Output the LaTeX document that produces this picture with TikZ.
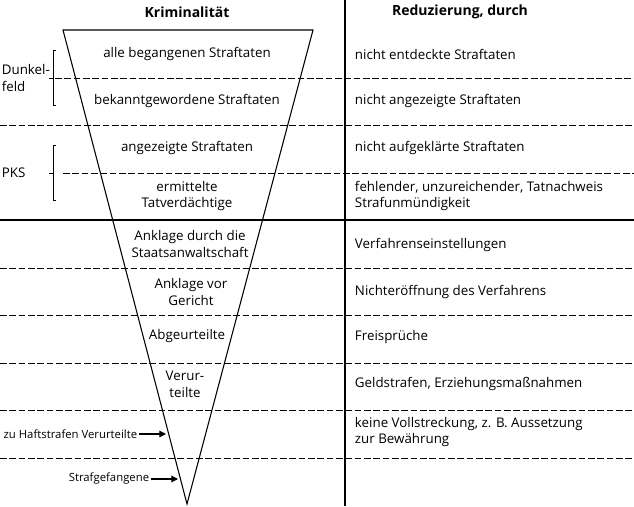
\documentclass[tikz,border=0pt]{standalone}
\usepackage{fontspec}
\setmainfont{Open Sans}
\usetikzlibrary{positioning,arrows.meta}
\tikzset{
    sep/.style={dashed, dash pattern=on 5pt off 2pt, thin},
    lefttext/.style={align=center, font=\fontsize{10}{12.5}\selectfont},
    righttext/.style={anchor=west, align=left, font=\fontsize{10}{12.5}\selectfont},
    sidetext/.style={anchor=east, font=\fontsize{8.5}{10}\selectfont, inner sep=1pt},
}
\begin{document}
\begin{tikzpicture}[x=0.75pt, y=-0.75pt, thick]
    \useasboundingbox (0,0) rectangle (634,506);
    \coordinate (TopLeft) at (63,30);
    \coordinate (TopRight) at (313,30);
    \coordinate (Apex) at (187,504);
    \draw[line join=miter] (TopLeft) -- (TopRight) -- (Apex) -- cycle;
    \draw[very thick] (345,0) -- (345,506);

    % separators
    \draw[sep] (55,78) -- (634,78);
    \draw[sep] (0,125) -- (634,125);
    \draw[sep] (63,173) -- (634,173);
    \draw[thick] (0,220) -- (634,220);
    \foreach \y in {268,315,363,410,458}
        \draw[sep] (0,\y) -- (634,\y);

    % brackets
    \draw[semithick] (56,50) -- (53,50) -- (53,105) -- (56,105) (53,78) -- (49,78);
    \draw[semithick] (56,145) -- (53,145) -- (53,200) -- (56,200) (53,173) -- (49,173);
    \node[lefttext, anchor=west, align=left, inner sep=1pt] (Dunkelfeld) at (0,78) {Dunkel-\\feld};
    \node[lefttext, anchor=west, inner sep=1pt] (PKS) at (0,173) {PKS};

    \node[font=\bfseries\fontsize{10.5}{12}\selectfont] (Krim) at (187,12) {Kriminalität};
    \node[font=\bfseries\fontsize{10.5}{12}\selectfont] (Red) at (460,12) {Reduzierung, durch};

    \node[lefttext] (L1) at (187,54) {alle begangenen Straftaten};
    \node[lefttext] (L2) at (187,101) {bekanntgewordene Straftaten};
    \node[lefttext] (L3) at (187,148) {angezeigte Straftaten};
    \node[lefttext] (L4) at (187,196) {ermittelte\\Tatverdächtige};
    \node[lefttext] (L5) at (190,244) {Anklage durch die\\Staatsanwaltschaft};
    \node[lefttext] (L6) at (191,292) {Anklage vor\\Gericht};
    \node[lefttext] (L7) at (187,336) {Abgeurteilte};
    \node[lefttext] (L8) at (185,384) {Verur-\\teilte};

    \node[righttext] (R1) at (350,54) {nicht entdeckte Straftaten};
    \node[righttext] (R2) at (350,101) {nicht angezeigte Straftaten};
    \node[righttext] (R3) at (350,148) {nicht aufgeklärte Straftaten};
    \node[righttext] (R4) at (350,196) {fehlender, unzureichender, Tatnachweis\\Strafunmündigkeit};
    \node[righttext] (R5) at (350,245) {Verfahrenseinstellungen};
    \node[righttext] (R6) at (350,292) {Nichteröffnung des Verfahrens};
    \node[righttext] (R7) at (350,337) {Freisprüche};
    \node[righttext] (R8) at (350,384) {Geldstrafen, Erziehungsmaßnahmen};
    \node[righttext] (R9) at (350,432) {keine Vollstreckung, z. B. Aussetzung\\zur Bewährung};

    \node[sidetext] (Haft) at (139,434) {zu Haftstrafen Verurteilte};
    \coordinate (HaftEnd) at (166,434);
    \draw[-{Triangle[length=5pt,width=5pt]}] (Haft) -- (HaftEnd);
    \node[sidetext] (Gef) at (151,479) {Strafgefangene};
    \coordinate (GefEnd) at (178,479);
    \draw[-{Triangle[length=5pt,width=5pt]}] (Gef) -- (GefEnd);
\end{tikzpicture}
\end{document}
